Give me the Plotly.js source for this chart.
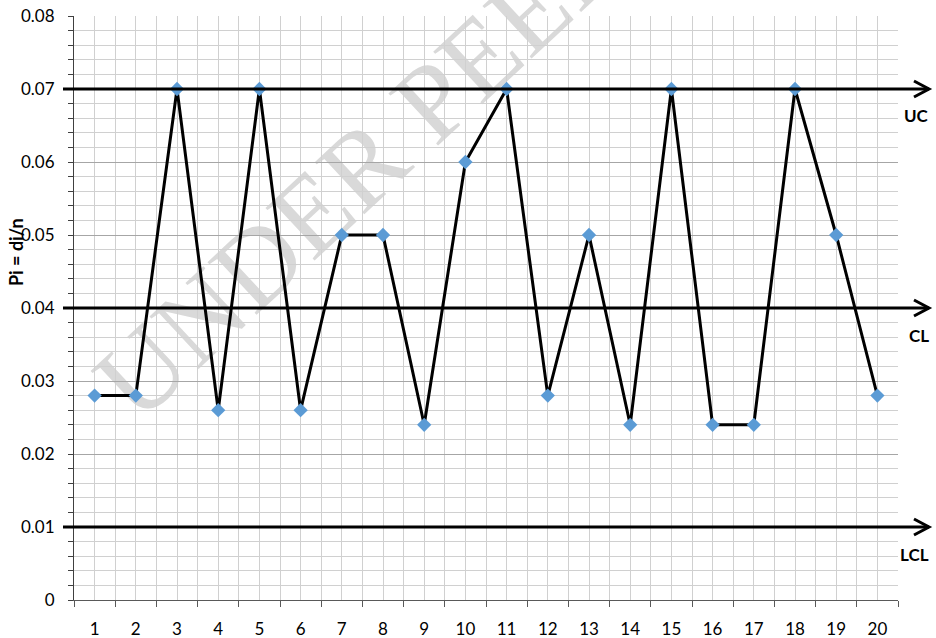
<!DOCTYPE html>
<html>
<head>
<meta charset="utf-8">
<script src="https://cdn.plot.ly/plotly-3.0.1.min.js"></script>
<style>html,body{margin:0;padding:0;background:#fff;}#chart{width:936px;height:638px;}</style>
</head>
<body>
<div id="chart"></div>
<script>
// ---- data ----
const sampleNumbers = [1,2,3,4,5,6,7,8,9,10,11,12,13,14,15,16,17,18,19,20];
const sampleLabels = ['1','2','3','4','5','6','7','8','9','10','11','12','13','14','15','16','17','18','19','20'];
const proportions = [0.028,0.028,0.07,0.026,0.07,0.026,0.05,0.05,0.024,0.06,0.07,0.028,0.05,0.024,0.07,0.024,0.024,0.07,0.05,0.028];
const limitValues = [0.07, 0.04, 0.01];
const limitLabels = ['UC', 'CL', 'LCL'];
const yAxisTitle = 'Pi = di/n';
const watermarkText = 'UNDER PEER REVIEW';

// ---- styling / geometry ----
const W = 936, H = 638;
const M = {l:74, r:38, t:16, b:38};
const plotW = W - M.l - M.r, plotH = H - M.t - M.b;
const yRange = [0, 0.08];
const px2paperX = p => (p - M.l) / plotW;
const val2paperY = v => (v - yRange[0]) / (yRange[1] - yRange[0]);
const pxOffY = p => p / plotH;

const lineStart = px2paperX(63), lineEnd = px2paperX(929);
const armX = px2paperX(929) - px2paperX(914);

const shapes = [];
const annotations = [];
limitValues.forEach((v, i) => {
  const yp = val2paperY(v);
  shapes.push({type:'line', xref:'paper', yref:'paper', x0:lineStart, x1:lineEnd, y0:yp, y1:yp,
               line:{color:'#000', width:3}, layer:'above'});
  shapes.push({type:'path', xref:'paper', yref:'paper',
               path:`M${lineEnd-armX},${yp+pxOffY(8)} L${lineEnd},${yp} L${lineEnd-armX},${yp-pxOffY(8)}`,
               line:{color:'#000', width:3}, layer:'above'});
  annotations.push({xref:'paper', yref:'paper', x:px2paperX(931), y:yp, xanchor:'right', yanchor:'middle',
                    yshift:-27, text:'<b>'+limitLabels[i]+'</b>', showarrow:false,
                    font:{family:'Lato, sans-serif', size:17, color:'#000'}});
});

// watermark (drawn under grid)
const wmCx = px2paperX(518), wmCy = 1 - pxOffY(4 - M.t);
shapes.push({type:'line', xref:'paper', yref:'paper', x0:wmCx-0.1, x1:wmCx+0.1,
             y0:wmCy-pxOffY(77), y1:wmCy+pxOffY(77), line:{color:'rgba(0,0,0,0)', width:0},
             layer:'below',
             label:{text:watermarkText, textangle:-43, textposition:'middle', yanchor:'middle', xanchor:'center', padding:0,
                    font:{family:'Liberation Serif, serif', size:110, color:'#d9d9d9'}}});

annotations.push({xref:'paper', yref:'paper', x:px2paperX(16), y:1 - pxOffY(252 - M.t), textangle:-90,
                  xanchor:'center', yanchor:'middle', showarrow:false, text:'<b>'+yAxisTitle+'</b>',
                  font:{family:'Lato, sans-serif', size:18, color:'#000'}});

const trace = {
  x: sampleNumbers, y: proportions, type:'scatter', mode:'lines+markers',
  line:{color:'#000', width:3},
  marker:{symbol:'diamond', size:11, color:'#5B9BD5'},
  cliponaxis:false, hoverinfo:'x+y'
};

const layout = {
  width:W, height:H, margin:M, paper_bgcolor:'#fff', plot_bgcolor:'#fff', showlegend:false,
  font:{family:'Lato, sans-serif', size:17, color:'#000'},
  xaxis:{range:[0.5,20.5], tickmode:'array', tickvals:sampleNumbers, ticktext:sampleLabels,
         ticks:'', showgrid:true, gridcolor:'#d0d0d0', gridwidth:1, zeroline:false,
         showline:true, linecolor:'#595959', linewidth:1, ticklabelstandoff:14,
         tickfont:{family:'Lato, sans-serif', size:17, color:'#000'},
         minor:{tick0:0.5, dtick:1, ticks:'outside', ticklen:6, tickcolor:'#595959', showgrid:true, gridcolor:'#d0d0d0'}},
  yaxis:{range:yRange, tick0:0, dtick:0.01, ticks:'outside', ticklen:5, tickcolor:'#404040',
         showgrid:true, gridcolor:'#a6a6a6', gridwidth:1, zeroline:false,
         showline:true, linecolor:'#404040', linewidth:1, ticklabelstandoff:10,
         tickfont:{family:'Lato, sans-serif', size:17, color:'#000'},
         minor:{tick0:0, dtick:0.002, ticks:'outside', ticklen:5, tickcolor:'#404040', showgrid:true, gridcolor:'#d0d0d0'}},
  shapes:shapes, annotations:annotations
};

Plotly.newPlot('chart', [trace], layout, {staticPlot:true});
</script>
</body>
</html>
